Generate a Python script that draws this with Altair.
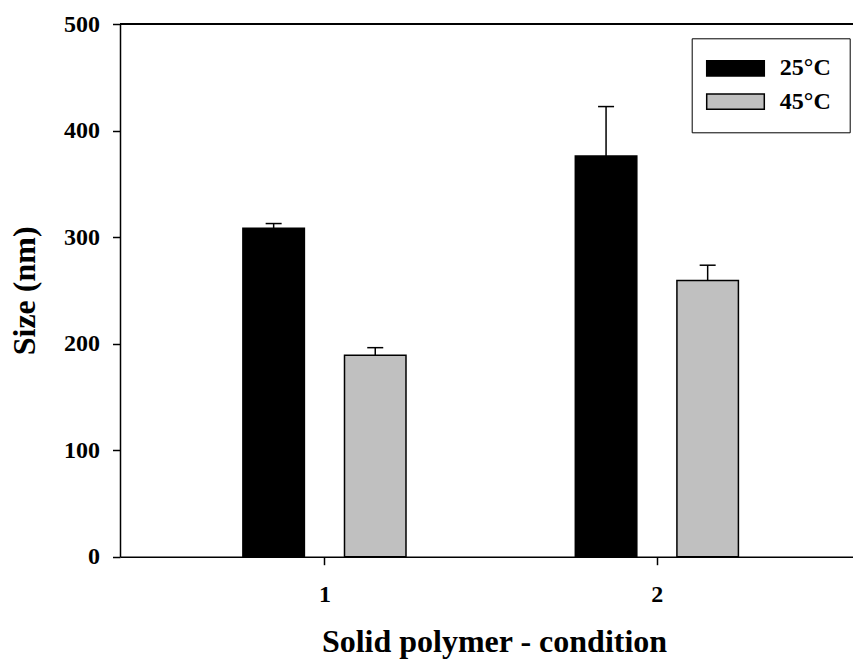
import altair as alt
import pandas as pd

# Particle size per solid polymer condition at two temperatures
groups = [1, 2]
temperatures = ["25°C", "45°C"]
size_25 = [308.4, 376.2]
err_25 = [4.3, 46.3]
size_45 = [189.1, 259.2]
err_45 = [7.1, 14.4]
bar_colors = ["#000000", "#c0c0c0"]
y_ticks = [0, 100, 200, 300, 400, 500]

rows = []
for temp, sizes, errs in zip(temperatures, [size_25, size_45], [err_25, err_45]):
    for g, s, e in zip(groups, sizes, errs):
        rows.append({"group": g, "temp": temp, "size": s, "err": e})
df = pd.DataFrame(rows)

FONT = "Liberation Serif, Times New Roman, Times, serif"
W, H = 733, 532.7
BAR_W = 61.5
SHIFT = 50.8
CAP = 8

x_scale = alt.Scale(domain=[0.4, 2.575], nice=False, zero=False)
y_scale = alt.Scale(domain=[0, 500], nice=False)
color_scale = alt.Scale(domain=temperatures, range=bar_colors)

x_enc = alt.X(
    "group:Q",
    scale=x_scale,
    axis=alt.Axis(values=groups, format="d", title="Solid polymer - condition",
                  tickSize=8, labelPadding=18, titlePadding=20,
                  titleX=374, titleAlign="center"),
)
y_enc = alt.Y(
    "size:Q",
    scale=y_scale,
    axis=alt.Axis(values=y_ticks, title="Size (nm)", tickSize=7.5,
                  labelPadding=13, titlePadding=22),
)

base = alt.Chart(df).transform_calculate(top="datum.size + datum.err")

layers = []
for temp, dx in zip(temperatures, [-SHIFT, SHIFT]):
    sub = base.transform_filter(alt.datum.temp == temp)
    bars = sub.mark_bar(width=BAR_W, xOffset=dx, stroke="black", strokeWidth=1.5).encode(
        x=x_enc,
        y=y_enc,
        color=alt.Color("temp:N", scale=color_scale, legend=alt.Legend(title=None)),
    )
    whisker = sub.mark_rule(xOffset=dx, color="black", strokeWidth=1.5).encode(
        x="group:Q", y="size:Q", y2="top:Q"
    )
    cap = sub.mark_rule(xOffset=dx - CAP, x2Offset=dx + CAP, color="black", strokeWidth=1.5).encode(
        x="group:Q", x2="group:Q", y="top:Q"
    )
    layers += [whisker, cap, bars]

# upper frame line of the plot area
top_line = alt.Chart(df).mark_rule(color="black", strokeWidth=1.5).encode(y=alt.datum(500))

chart = (
    alt.layer(*layers, top_line)
    .properties(
        width=W,
        height=H,
        padding={"left": 120, "top": 24, "right": 0, "bottom": 104.3},
        autosize="none",
        background="white",
    )
    .configure_view(stroke=None)
    .configure_axis(
        domainColor="black",
        domainWidth=1.5,
        tickColor="black",
        tickWidth=1.5,
        grid=False,
        labelFont=FONT,
        labelFontSize=24,
        labelFontWeight="bold",
        labelColor="black",
        titleFont=FONT,
        titleFontSize=32,
        titleFontWeight="bold",
        titleColor="black",
    )
    .configure_legend(
        orient="none",
        legendX=571.7,
        legendY=14.3,
        strokeColor="black",
        padding=18,
        rowPadding=9.4,
        symbolType="M-3.6,-0.956H3.6V0.956H-3.6Z",
        symbolSize=256,
        symbolStrokeColor="black",
        symbolStrokeWidth=1.5,
        symbolOffset=13.8,
        labelOffset=32.3,
        labelFont=FONT,
        labelFontSize=24,
        labelFontWeight="bold",
        labelColor="black",
        labelLimit=300,
    )
)

chart.save("out.html", embed_options={"renderer": "svg", "actions": False})
